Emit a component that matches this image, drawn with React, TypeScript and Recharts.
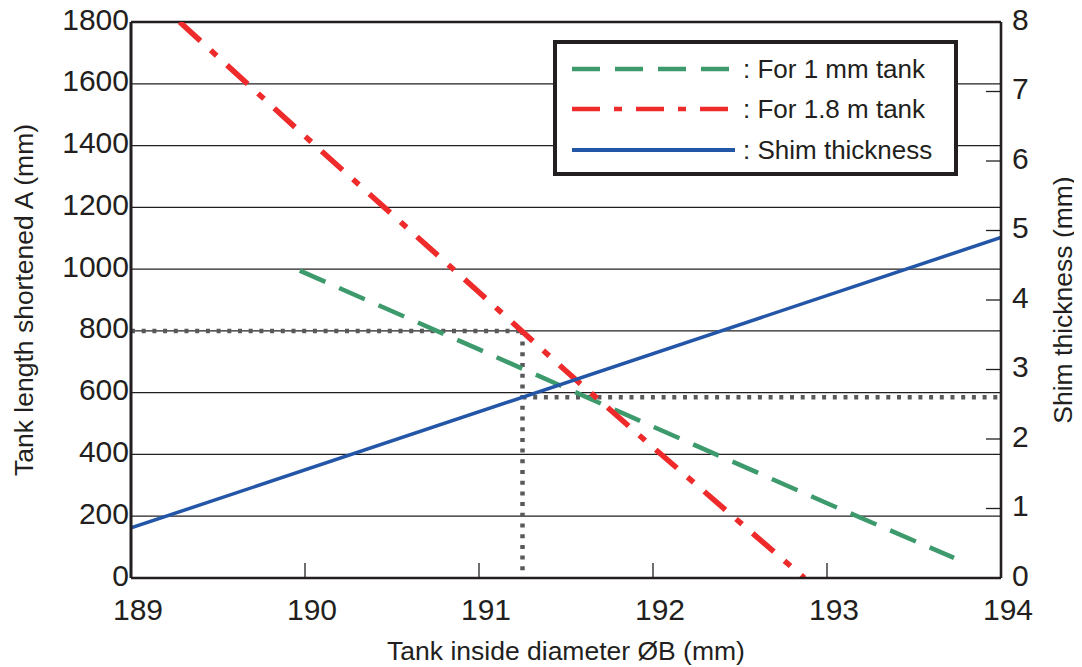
import React from 'react';
import { LineChart, Line, XAxis, YAxis, CartesianGrid, ReferenceLine, Legend, Label } from 'recharts';

// ---- data ----
const xTicks = [189, 190, 191, 192, 193, 194];
const leftTicks = [0, 200, 400, 600, 800, 1000, 1200, 1400, 1600, 1800];
const rightTicks = [0, 1, 2, 3, 4, 5, 6, 7, 8];

const tank1mmX = [189.97, 191, 192, 193, 193.73];
const tank1mmY = [995, 740, 490, 242, 65];

const tank18mX = [189.28, 190, 191, 191.5, 192, 192.5, 192.87];
const tank18mY = [1800, 1430, 925, 670, 423, 180, 0];

const shimX = [189, 194];
const shimY = [0.72, 4.9];

const guideDiameter = 191.25;
const guideLength = 800;
const guideShim = 2.6;

const seriesNames = [': For 1 mm tank', ': For 1.8 m tank', ': Shim thickness'];

// ---- styles ----
const FONT = '"Liberation Sans", Arial, Helvetica, sans-serif';
const INK = '#231f20';
const GREEN = '#3d9a6c';
const RED = '#ee2a2a';
const BLUE = '#2456a8';
const GRAY = '#58595b';

const W = 1082;
const H = 667;
const X_MARGIN = 21;
const Y_MARGIN_L = 2;
const Y_MARGIN_R = 11;

const toPts = (xs: number[], ys: number[]) => xs.map((x, i) => ({ x, y: ys[i] }));
const tank1mm = toPts(tank1mmX, tank1mmY);
const tank18m = toPts(tank18mX, tank18mY);
const shim = toPts(shimX, shimY);

const legendItems = [
  { name: seriesNames[0], color: GREEN, dash: '28 15', width: 4.5 },
  { name: seriesNames[1], color: RED, dash: '28 14 8 14', width: 4.5 },
  { name: seriesNames[2], color: BLUE, dash: undefined as string | undefined, width: 4 },
];

const XTick = (props: any) => {
  const { x, y, payload } = props;
  const v = payload.value;
  const axisY = y - X_MARGIN;
  return (
    <g>
      {v > 189 && v < 194 ? (
        <line x1={x} x2={x} y1={axisY} y2={axisY - 15} stroke={INK} strokeWidth={1.3} />
      ) : null}
      <text x={x + 7} y={y} dy={21} textAnchor="middle" fontSize={30} fontFamily={FONT} fill={INK}>
        {v}
      </text>
    </g>
  );
};

const LeftTick = (props: any) => {
  const { x, y, payload } = props;
  return (
    <text x={x} y={y} dy={7.5} textAnchor="end" fontSize={30} fontFamily={FONT} fill={INK}>
      {payload.value}
    </text>
  );
};

const RightTick = (props: any) => {
  const { x, y, payload } = props;
  const v = payload.value;
  const axisX = x - Y_MARGIN_R;
  return (
    <g>
      {v > 0 && v < 8 ? (
        <line x1={axisX} x2={axisX - 15} y1={y} y2={y} stroke={INK} strokeWidth={1.3} />
      ) : null}
      <text x={x} y={y} dy={7.5} textAnchor="start" fontSize={30} fontFamily={FONT} fill={INK}>
        {v}
      </text>
    </g>
  );
};

const RotLabel = (props: any) => {
  const { viewBox, value, bx } = props;
  const vb = viewBox || {};
  const x = (vb.x ?? 0) + bx;
  const cy = (vb.y ?? 22) + (vb.height ?? 556) / 2;
  return (
    <text
      x={x}
      y={cy}
      transform={`rotate(-90, ${x}, ${cy})`}
      textAnchor="middle"
      fontSize={26.5}
      fontFamily={FONT}
      fill={INK}
    >
      {value}
    </text>
  );
};

const LegendBox = () => (
  <div
    style={{
      position: 'relative',
      width: 405,
      height: 136,
      boxSizing: 'border-box',
      border: `4px solid ${INK}`,
      background: '#fff',
      fontFamily: FONT,
    }}
  >
    {legendItems.map((it, i) => (
      <div
        key={it.name}
        style={{
          position: 'absolute',
          left: 15,
          top: [25, 65, 106][i] - 20,
          height: 40,
          display: 'flex',
          alignItems: 'center',
          whiteSpace: 'nowrap',
        }}
      >
        <svg width={163} height={10} style={{ display: 'block' }}>
          <line x1={0} x2={163} y1={5} y2={5} stroke={it.color} strokeWidth={it.width} strokeDasharray={it.dash} />
        </svg>
        <span style={{ marginLeft: 8, fontSize: 26, color: INK, lineHeight: '40px' }}>{it.name}</span>
      </div>
    ))}
  </div>
);

export default function App() {
  return (
    <div style={{ width: W, height: H, margin: '-8px 0 0 -8px', fontFamily: FONT }}>
      <LineChart width={W} height={H} margin={{ top: 22, right: 0, bottom: 0, left: 0 }}>
        <CartesianGrid vertical={false} horizontal stroke={INK} strokeWidth={1.3} yAxisId="left" />
        <XAxis
          type="number"
          dataKey="x"
          domain={[189, 194]}
          ticks={xTicks}
          allowDataOverflow
          height={89}
          tickSize={0}
          tickLine={false}
          tickMargin={X_MARGIN}
          tick={<XTick />}
          axisLine={{ stroke: INK, strokeWidth: 2.6 }}
          interval={0}
        >
          <Label
            value="Tank inside diameter ØB (mm)"
            position="insideBottom"
            offset={7}
            fontSize={26.5}
            fontFamily={FONT}
            fill={INK}
          />
        </XAxis>
        <YAxis
          yAxisId="left"
          type="number"
          domain={[0, 1800]}
          ticks={leftTicks}
          allowDataOverflow
          width={131}
          tickSize={0}
          tickLine={false}
          tickMargin={Y_MARGIN_L}
          tick={<LeftTick />}
          axisLine={{ stroke: INK, strokeWidth: 3 }}
          interval={0}
        >
          <Label content={<RotLabel bx={33} value="Tank length shortened A (mm)" />} />
        </YAxis>
        <YAxis
          yAxisId="right"
          orientation="right"
          type="number"
          domain={[0, 8]}
          ticks={rightTicks}
          allowDataOverflow
          width={81}
          tickSize={0}
          tickLine={false}
          tickMargin={Y_MARGIN_R}
          tick={<RightTick />}
          axisLine={{ stroke: INK, strokeWidth: 2.6 }}
          interval={0}
        >
          <Label content={<RotLabel bx={71} value="Shim thickness (mm)" />} />
        </YAxis>
        <ReferenceLine yAxisId="left" y={1800} stroke={INK} strokeWidth={2.6} ifOverflow="visible" />
        <ReferenceLine
          yAxisId="left"
          segment={[{ x: 189, y: guideLength }, { x: guideDiameter, y: guideLength }]}
          stroke={GRAY}
          strokeWidth={4.5}
          strokeDasharray="4 6.7"
        />
        <ReferenceLine
          yAxisId="left"
          segment={[{ x: guideDiameter, y: guideLength }, { x: guideDiameter, y: 0 }]}
          stroke={GRAY}
          strokeWidth={4.5}
          strokeDasharray="4 6.7"
        />
        <ReferenceLine
          yAxisId="right"
          segment={[{ x: guideDiameter, y: guideShim }, { x: 194, y: guideShim }]}
          stroke={GRAY}
          strokeWidth={4.5}
          strokeDasharray="4 6.7"
        />
        <Line
          yAxisId="left"
          data={tank1mm}
          dataKey="y"
          name={seriesNames[0]}
          type="linear"
          stroke={GREEN}
          strokeWidth={4.5}
          strokeDasharray="28 15"
          dot={false}
          activeDot={false}
          isAnimationActive={false}
        />
        <Line
          yAxisId="left"
          data={tank18m}
          dataKey="y"
          name={seriesNames[1]}
          type="linear"
          stroke={RED}
          strokeWidth={5.5}
          strokeDasharray="28 14 8 14"
          dot={false}
          activeDot={false}
          isAnimationActive={false}
        />
        <Line
          yAxisId="right"
          data={shim}
          dataKey="y"
          name={seriesNames[2]}
          type="linear"
          stroke={BLUE}
          strokeWidth={3.5}
          dot={false}
          activeDot={false}
          isAnimationActive={false}
        />
        <Legend
          layout="vertical"
          align="center"
          verticalAlign="middle"
          content={<LegendBox />}
          wrapperStyle={{ left: 553, top: 40, width: 405, height: 136 }}
        />
      </LineChart>
    </div>
  );
}
